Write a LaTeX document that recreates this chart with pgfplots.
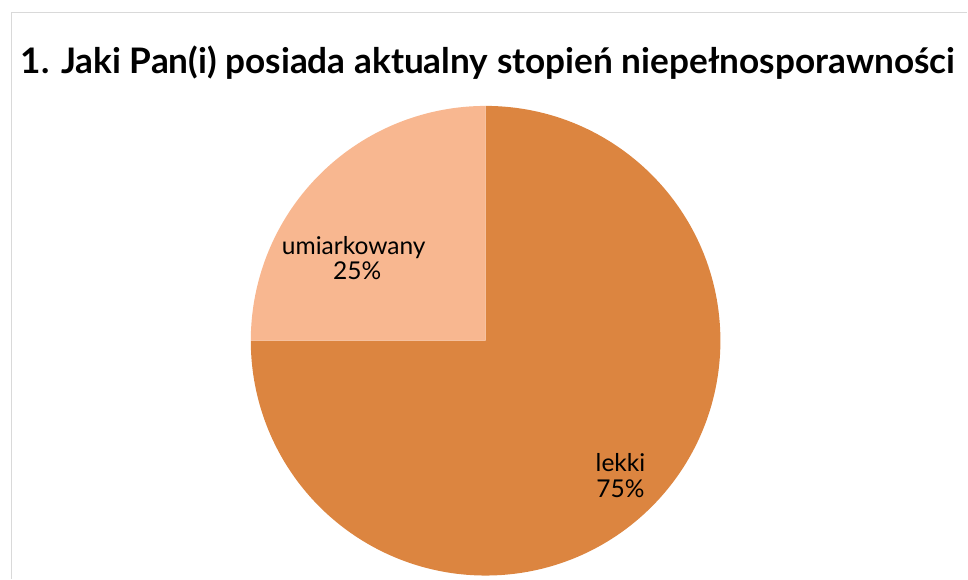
\documentclass[border=0pt]{standalone}
\usepackage{pgfplots}
\pgfplotsset{compat=1.18}
\usepackage{pgfplotstable}
\usepackage{fontspec}
\setmainfont{Lato}
\definecolor{lekkiC}{RGB}{220,133,64}
\definecolor{umiarC}{RGB}{248,183,144}
\definecolor{frameC}{RGB}{217,217,217}

% share of answers, in per cent
\pgfplotstableread{
label value
lekki 75
umiarkowany 25
}\piedata
\pgfplotstablegetelem{0}{value}\of\piedata \let\valA\pgfplotsretval
\pgfplotstablegetelem{1}{value}\of\piedata \let\valB\pgfplotsretval
% slices run clockwise from 12 o'clock
\pgfmathsetmacro\endA{90-3.6*\valA}
\pgfmathsetmacro\endB{\endA-3.6*\valB}
\def\rad{176.25pt}

\begin{document}
\begin{tikzpicture}
\begin{axis}[width=726pt,height=434.25pt,scale only axis,hide axis,
  xmin=0,xmax=968,ymin=0,ymax=579,y dir=reverse,clip=false]
\addplot[draw=none] coordinates {(0,0) (968,579)};
\draw[frameC,line width=1.2pt] (axis cs:11.5,579) -- (axis cs:11.5,12.5) -- (axis cs:968,12.5);
\fill[lekkiC] (axis cs:486,341) -- ++(90:\rad)
  arc[start angle=90,end angle=\endA,radius=\rad] -- cycle;
\fill[umiarC] (axis cs:486,341) -- ++(\endA:\rad)
  arc[start angle=\endA,end angle=\endB,radius=\rad] -- cycle;
\node[font=\fontsize{26.4}{30}\selectfont\bfseries,anchor=base] at (axis cs:488.5,74)
  {1. Jaki Pan(i) posiada aktualny stopień niepełnosporawności};
\begin{scope}[every node/.style={font=\fontsize{18.4}{22}\selectfont,anchor=base,inner sep=0pt}]
\node at (axis cs:354,255) {umiarkowany};
\node at (axis cs:357.5,280) {25\%};
\node at (axis cs:621,472) {lekki};
\node at (axis cs:621,498) {75\%};
\end{scope}
\end{axis}
\end{tikzpicture}
\end{document}
